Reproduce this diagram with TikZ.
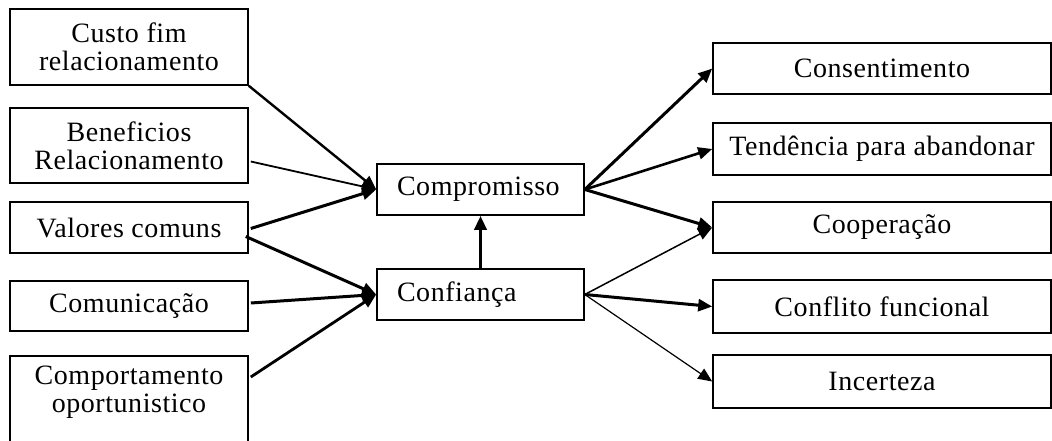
\documentclass[tikz,border=0pt]{standalone}
\usepackage{fontspec}
\setmainfont{Liberation Serif}
\newfontfamily\boxfont[LetterSpace=2]{Liberation Serif}
\usetikzlibrary{arrows.meta,calc}
\begin{document}
\begin{tikzpicture}[x=1pt,y=-1pt,
  boxtext/.style={align=center,font=\boxfont\fontsize{28}{28}\selectfont},
  box/.style={draw,line width=1.6pt,inner sep=0pt,boxtext},
  link/.style={line width=2.6pt,-{Triangle[length=14pt,width=12pt]}},
  thin link/.style={line width=1.2pt,-{Triangle[length=14pt,width=12pt]}}]
\useasboundingbox (0,0) rectangle (1052,441);
% left column: antecedents
\node[box,minimum width=238pt,minimum height=76pt] (custo) at (129,47) {Custo fim\\relacionamento};
\node[box,minimum width=238pt,minimum height=75pt] (ben) at (129,145.5) {Beneficios\\Relacionamento};
\node[box,minimum width=238pt,minimum height=51pt] (val) at (129,227.5) {Valores comuns};
\node[box,minimum width=238pt,minimum height=50pt] (comun) at (129,306) {Comunicação};
\node[box,minimum width=238pt,minimum height=90pt,anchor=north] (comport) at (129,355) {};
\node[boxtext] (comporttxt) at (129,392) {Comportamento\\oportunistico};
% centre: mediating variables
\node[box,minimum width=207pt,minimum height=51pt,text width=167pt,align=left] (compr) at (480.5,189.5) {Compromisso};
\node[box,minimum width=207pt,minimum height=51pt,text width=167pt,align=left] (conf) at (480.5,294.5) {Confiança};
% right column: outcomes
\node[box,minimum width=338pt,minimum height=51pt] (cons) at (882,68.5) {Consentimento};
\node[box,minimum width=338pt,minimum height=52pt] (tend) at (882,149) {Tendência para abandonar};
\node[box,minimum width=338pt,minimum height=51pt] (coop) at (882,227.5) {Cooperação};
\node[box,minimum width=338pt,minimum height=53pt] (confl) at (882,306.5) {Conflito funcional};
\node[box,minimum width=338pt,minimum height=53pt] (inc) at (882,381.5) {Incerteza};
% connectors into Compromisso
\draw[link,line width=2.4pt] (custo.south east) -- (compr.west);
\draw[link,line width=1.8pt] ($(ben.east)+(2,16)$) -- (compr.west);
\draw[link,line width=3pt] ($(val.east)+(2,1)$) -- (compr.west);
% connectors into Confiança
\draw[link,line width=3pt] ($(val.east)+(-3,9)$) -- (conf.west);
\draw[link,line width=3pt] ($(comun.east)+(2,-3)$) -- (conf.west);
\draw[link,line width=2.8pt] ($(comport.north east)+(2,22)$) -- (conf.west);
\draw[link,line width=3.4pt] (conf.north) -- (compr.south);
% connectors out of Compromisso
\draw[link,line width=3pt] (compr.east) -- (cons.west);
\draw[link,line width=2.6pt] (compr.east) -- (tend.west);
\draw[link,line width=3pt] (compr.east) -- (coop.west);
% connectors out of Confiança
\draw[thin link,line width=1.5pt] (conf.east) -- (coop.west);
\draw[link,line width=3pt] (conf.east) -- (confl.west);
\draw[thin link] (conf.east) -- (inc.west);
\end{tikzpicture}
\end{document}
